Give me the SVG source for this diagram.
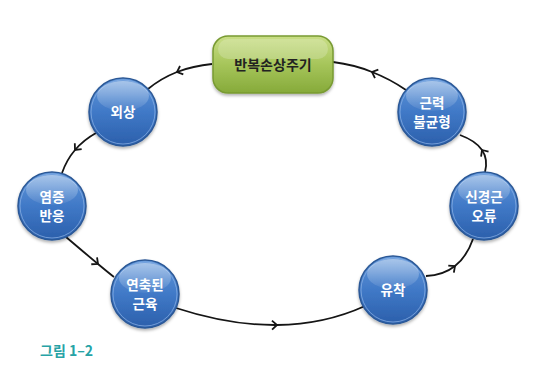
<svg xmlns="http://www.w3.org/2000/svg" width="560" height="380" viewBox="0 0 560 380">
<defs>
<style>
.conn{fill:none;stroke:#151515;stroke-width:1.8;}
.ball{fill:url(#blue);stroke:#2c5896;stroke-width:1.5;}
.rim{fill:none;stroke:#8fb4e6;stroke-width:1;opacity:0.7;}
.gloss{fill:url(#gloss);}
.lbl{font-family:"Noto Sans CJK KR","Noto Sans",sans-serif;font-weight:bold;font-size:13.5px;fill:#ffffff;text-anchor:middle;}
.top{font-family:"Noto Sans CJK KR","Noto Sans",sans-serif;font-weight:bold;font-size:14px;fill:#222;text-anchor:middle;}
.cap{font-family:"Noto Sans CJK KR","Noto Sans",sans-serif;font-weight:bold;font-size:14px;fill:#27a3a6;}
</style>
<linearGradient id="blue" x1="0" y1="0" x2="0" y2="1">
<stop offset="0" stop-color="#6398da"/>
<stop offset="0.5" stop-color="#4079c7"/>
<stop offset="1" stop-color="#2b5fab"/>
</linearGradient>
<linearGradient id="gloss" x1="0" y1="0" x2="0" y2="1">
<stop offset="0" stop-color="#ffffff" stop-opacity="0.45"/>
<stop offset="1" stop-color="#ffffff" stop-opacity="0.05"/>
</linearGradient>
<linearGradient id="green" x1="0" y1="0" x2="0" y2="1">
<stop offset="0" stop-color="#c9de86"/>
<stop offset="0.5" stop-color="#a6c55a"/>
<stop offset="1" stop-color="#86aa3a"/>
</linearGradient>
<filter id="sh" x="-20%" y="-20%" width="140%" height="150%">
<feDropShadow dx="0" dy="2" stdDeviation="1.5" flood-color="#000" flood-opacity="0.3"/>
</filter>
<marker id="chev" markerUnits="userSpaceOnUse" markerWidth="12" markerHeight="12" refX="0" refY="0" viewBox="-7 -6 12 12" orient="auto" overflow="visible">
<path d="M-5,-4.5 L0,0 L-5,4.5" fill="none" stroke="#151515" stroke-width="1.8"/>
</marker>
</defs>
<rect width="560" height="380" fill="#ffffff"/>
<g id="connectors">
<path class="conn" marker-mid="url(#chev)" d="M212,64 Q193,65.8 177,72 Q161,78.3 148,89"/>
<path class="conn" marker-mid="url(#chev)" d="M96,133 Q83.5,140 75,150 Q66.5,160 62,173"/>
<path class="conn" marker-mid="url(#chev)" d="M66,237 Q86,254 98,264 Q110,274 114,277"/>
<path class="conn" marker-mid="url(#chev)" d="M176,308 Q229.8,325.5 277,325 Q324.3,324.5 365,306"/>
<path class="conn" marker-mid="url(#chev)" d="M426,276 Q443.3,275.3 455,266 Q466.8,256.8 473,239"/>
<path class="conn" marker-mid="url(#chev)" d="M485,172 Q488.3,159.3 482,150 Q475.8,140.8 460,135"/>
<path class="conn" marker-mid="url(#chev)" d="M406,90 Q390,79 372,72 Q354.8,64.8 333,62"/>
</g>
<g id="cycle">
<rect x="213" y="36" width="120" height="57" rx="15" fill="url(#green)" stroke="#789a32" stroke-width="1.5" filter="url(#sh)"/>
<rect x="218" y="39" width="110" height="20" rx="10" fill="#ffffff" opacity="0.2"/>
<text class="top" x="273" y="70">반복손상주기</text>
</g>
<g id="trauma">
<circle class="ball" cx="123" cy="112" r="34" filter="url(#sh)"/>
<circle class="rim" cx="123" cy="112" r="32"/>
<ellipse class="gloss" cx="123" cy="96" rx="26" ry="15"/>
<text class="lbl" x="123" y="117">외상</text>
</g>
<g id="inflammation">
<circle class="ball" cx="52" cy="206" r="34" filter="url(#sh)"/>
<circle class="rim" cx="52" cy="206" r="32"/>
<ellipse class="gloss" cx="52" cy="190" rx="26" ry="15"/>
<text class="lbl" x="52" y="202">염증</text>
<text class="lbl" x="52" y="221">반응</text>
</g>
<g id="spasm">
<circle class="ball" cx="145" cy="294" r="34" filter="url(#sh)"/>
<circle class="rim" cx="145" cy="294" r="32"/>
<ellipse class="gloss" cx="145" cy="278" rx="26" ry="15"/>
<text class="lbl" x="145" y="290">연축된</text>
<text class="lbl" x="145" y="309">근육</text>
</g>
<g id="adhesion">
<circle class="ball" cx="393" cy="290" r="34" filter="url(#sh)"/>
<circle class="rim" cx="393" cy="290" r="32"/>
<ellipse class="gloss" cx="393" cy="274" rx="26" ry="15"/>
<text class="lbl" x="393" y="295">유착</text>
</g>
<g id="neuro">
<circle class="ball" cx="484" cy="206" r="34" filter="url(#sh)"/>
<circle class="rim" cx="484" cy="206" r="32"/>
<ellipse class="gloss" cx="484" cy="190" rx="26" ry="15"/>
<text class="lbl" x="484" y="202">신경근</text>
<text class="lbl" x="484" y="221">오류</text>
</g>
<g id="imbalance">
<circle class="ball" cx="432" cy="112" r="34" filter="url(#sh)"/>
<circle class="rim" cx="432" cy="112" r="32"/>
<ellipse class="gloss" cx="432" cy="96" rx="26" ry="15"/>
<text class="lbl" x="432" y="108">근력</text>
<text class="lbl" x="432" y="127">불균형</text>
</g>
<text class="cap" x="40" y="356">그림 1–2</text>
</svg>
